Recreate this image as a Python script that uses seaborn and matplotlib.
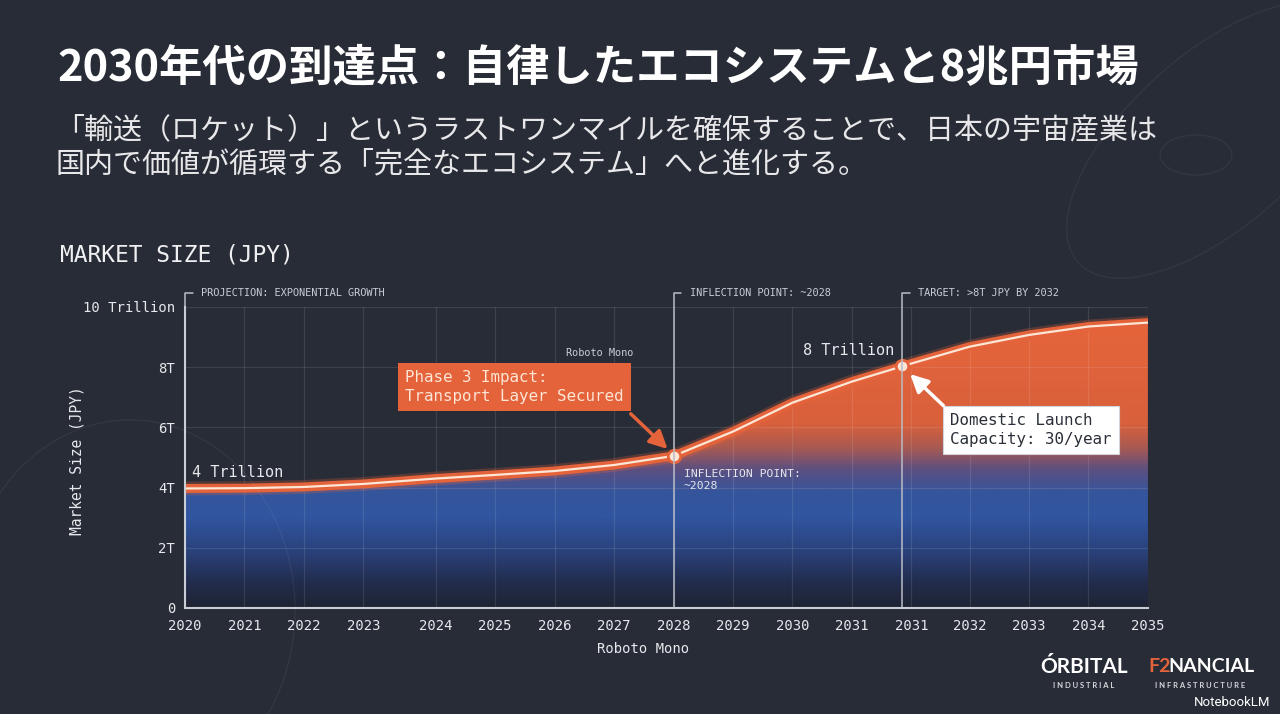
import numpy as np
import pandas as pd
import matplotlib
matplotlib.use("Agg")
import matplotlib.pyplot as plt
from matplotlib.colors import LinearSegmentedColormap
from matplotlib.patches import Circle, Ellipse
import seaborn as sns

# ---------- data ----------
year_labels = ["2020", "2021", "2022", "2023", "2024", "2025", "2026", "2027", "2028",
               "2029", "2030", "2031", "2031", "2032", "2033", "2034", "2035"]
# tick positions on the (uneven) x axis of the original
x_pos = [0, 1, 2, 3, 4.22, 5.22, 6.22, 7.22, 8.22, 9.22, 10.22, 11.22, 12.22, 13.2, 14.2, 15.2, 16.2]
market_tn = [3.97, 3.98, 4.02, 4.12, 4.30, 4.42, 4.55, 4.75, 5.05, 5.86, 6.82, 7.52, 8.12,
             8.68, 9.07, 9.35, 9.48]
marker_x = [8.22, 12.07]
marker_y = [5.05, 8.05]
y_ticks = [0, 2, 4, 6, 8, 10]
y_tick_labels = ["0", "2T", "4T", "6T", "8T", "10 Trillion"]

df = pd.DataFrame({"x": x_pos, "value": market_tn})

BG = "#282c36"
ORANGE = "#e4633a"
CREAM = "#fde6d6"
LIGHT = "#e6e8ec"
MONO = "DejaVu Sans Mono"

sns.set_theme(style="dark")
plt.rcParams["font.family"] = ["Noto Sans CJK JP", "DejaVu Sans"]

fig = plt.figure(figsize=(12.8, 7.14), dpi=100, facecolor=BG)

# faint blueprint decoration in the background
deco = dict(fill=False, ec="#ffffff", alpha=0.05, lw=1, transform=fig.transFigure)
fig.patches.append(Ellipse((1215 / 1280, 1 - 140 / 714), 210 / 1280, 300 / 714, angle=-25, **deco))
fig.patches.append(Circle((1196 / 1280, 1 - 155 / 714), 0.028, **deco))
fig.patches.append(Ellipse((130 / 1280, 1 - 610 / 714), 330 / 1280, 380 / 714, **deco))

ax = fig.add_axes([0.1445, 0.1485, 0.7523, 0.4216])
ax.set_facecolor("none")

# ---------- gradient area under the curve ----------
cmap = LinearSegmentedColormap.from_list("fill", [
    (0.00, "#1f2434"), (0.08, "#222c4c"), (0.20, "#2b4480"), (0.30, "#3155a0"),
    (0.38, "#34559c"), (0.46, "#5d4f80"), (0.53, "#a85a52"), (0.61, "#d8603c"),
    (1.00, "#e8663a")])
grad = np.linspace(0, 1, 256).reshape(-1, 1)
im = ax.imshow(grad, extent=[0, 16.2, 0, 10], origin="lower", aspect="auto",
               cmap=cmap, zorder=0)
poly = ax.fill_between(df["x"], df["value"], 0, color="none", lw=0)
im.set_clip_path(poly.get_paths()[0], transform=ax.transData)

# ---------- the curve ----------
sns.lineplot(data=df, x="x", y="value", ax=ax, color=ORANGE, lw=10, alpha=0.25, zorder=3,
             solid_joinstyle="round")
sns.lineplot(data=df, x="x", y="value", ax=ax, color=ORANGE, lw=6.5, zorder=4,
             solid_joinstyle="round")
sns.lineplot(data=df, x="x", y="value", ax=ax, color=CREAM, lw=1.6, zorder=5,
             solid_joinstyle="round")
sns.scatterplot(x=marker_x, y=marker_y, ax=ax, s=80, color=CREAM, edgecolor=ORANGE,
                linewidth=2, zorder=6)

# ---------- axes styling ----------
ax.set_xlim(0, 16.2)
ax.set_ylim(0, 10)
ax.set_xticks(x_pos)
ax.set_xticklabels(year_labels)
ax.set_yticks(y_ticks)
ax.set_yticklabels(y_tick_labels)
ax.grid(True, color="#ffffff", alpha=0.1, lw=0.9)
ax.tick_params(axis="x", length=0, pad=8, colors=LIGHT, labelsize=10)
ax.tick_params(axis="y", length=0, pad=7, colors=LIGHT, labelsize=10)
for lab in ax.get_xticklabels() + ax.get_yticklabels():
    lab.set_family(MONO)
for side in ["top", "right"]:
    ax.spines[side].set_visible(False)
for side in ["left", "bottom"]:
    ax.spines[side].set_color("#c9cdd5")
    ax.spines[side].set_linewidth(1.5)
    ax.spines[side].set_zorder(7)

ax.set_xlabel("Roboto Mono", family=MONO, color=LIGHT, fontsize=10)
ax.xaxis.set_label_coords(0.476, -0.112)
ax.set_ylabel("Market Size (JPY)", family=MONO, color=LIGHT, fontsize=10.5)
ax.yaxis.set_label_coords(-0.104, 0.49)

# marker lines with bracket labels above the plot
for xv, label in [(0, "PROJECTION: EXPONENTIAL GROWTH"),
                  (8.22, "INFLECTION POINT: ~2028"),
                  (12.07, "TARGET: >8T JPY BY 2032")]:
    ax.plot([xv, xv, xv + 0.13], [0, 10.46, 10.46], color="#b9bdc6", lw=1.1,
            clip_on=False, zorder=6)
    ax.text(xv + 0.27, 10.46, label, family=MONO, fontsize=7.4, color="#c9cdd5",
            va="center", ha="left")

# ---------- annotations ----------
ax.text(0.12, 4.49, "4 Trillion", family=MONO, fontsize=11, color=LIGHT, va="center")
ax.text(11.93, 8.54, "8 Trillion", family=MONO, fontsize=11, color=LIGHT, va="center", ha="right")
ax.text(6.97, 8.47, "Roboto Mono", family=MONO, fontsize=7.4, color="#c9cdd5",
        va="center", ha="center")
ax.text(8.39, 4.62, "INFLECTION POINT:\n~2028", family=MONO, fontsize=8.2,
        color=LIGHT, va="top", ha="left", linespacing=1.25)

ax.text(3.71, 7.35, "Phase 3 Impact:\nTransport Layer Secured", family=MONO,
        fontsize=11.4, color=CREAM, va="center", ha="left", linespacing=1.3, zorder=8,
        bbox=dict(boxstyle="square,pad=0.45", fc=ORANGE, ec="none"))
ax.annotate("", xy=(8.12, 5.28), xytext=(7.5, 6.45), zorder=8,
            arrowprops=dict(arrowstyle="-|>,head_length=0.9,head_width=0.45",
                            color=ORANGE, lw=2.5, shrinkA=0, shrinkB=0))

ax.text(12.87, 5.91, "Domestic Launch\nCapacity: 30/year", family=MONO,
        fontsize=11.4, color="#2a2e38", va="center", ha="left", linespacing=1.3, zorder=8,
        bbox=dict(boxstyle="square,pad=0.45", fc="#ffffff", ec="#d0d3d9", lw=0.8))
ax.annotate("", xy=(12.2, 7.77), xytext=(12.76, 6.72), zorder=8,
            arrowprops=dict(arrowstyle="-|>,head_length=0.9,head_width=0.45",
                            color="#ffffff", lw=2.5, shrinkA=0, shrinkB=0))

# ---------- slide text ----------
fig.text(57 / 1280, 1 - 68 / 714, "2030年代の到達点：自律したエコシステムと8兆円市場",
         fontsize=31.2, weight="bold", color="#ffffff", va="center", ha="left")
fig.text(55 / 1280, 1 - 130 / 714,
         "「輸送（ロケット）」というラストワンマイルを確保することで、日本の宇宙産業は",
         fontsize=20.9, color="#e8e8ea", va="center", ha="left")
fig.text(55 / 1280, 1 - 164 / 714,
         "国内で価値が循環する「完全なエコシステム」へと進化する。",
         fontsize=20.9, color="#e8e8ea", va="center", ha="left")
fig.text(60 / 1280, 1 - 255 / 714, "MARKET SIZE (JPY)", family=MONO, fontsize=16.5,
         color="#f0f0f2", va="center", ha="left")

# logos
fig.text(1084 / 1280, 1 - 667 / 714, "ÓRBITAL", family="Lato", weight="bold",
         fontsize=15, color="#ffffff", va="center", ha="center")
fig.text(1084 / 1280, 1 - 686 / 714, "I N D U S T R I A L", family="Lato", weight="bold",
         fontsize=5.5, color="#d8d8dc", va="center", ha="center")
fig.text(1148 / 1280, 1 - 667 / 714, "F2", family="Lato", weight="bold",
         fontsize=14, color=ORANGE, va="center", ha="left")
fig.text(1168 / 1280, 1 - 667 / 714, "NANCIAL", family="Lato", weight="bold",
         fontsize=14, color="#ffffff", va="center", ha="left")
fig.text(1200 / 1280, 1 - 686 / 714, "I N F R A S T R U C T U R E", family="Lato",
         weight="bold", fontsize=5.5, color="#d8d8dc", va="center", ha="center")
fig.text(1270 / 1280, 1 - 702 / 714, "NotebookLM", family="Roboto", fontsize=9.5,
         color="#ffffff", va="center", ha="right")

fig.savefig("out.png", dpi=100, facecolor=BG)
